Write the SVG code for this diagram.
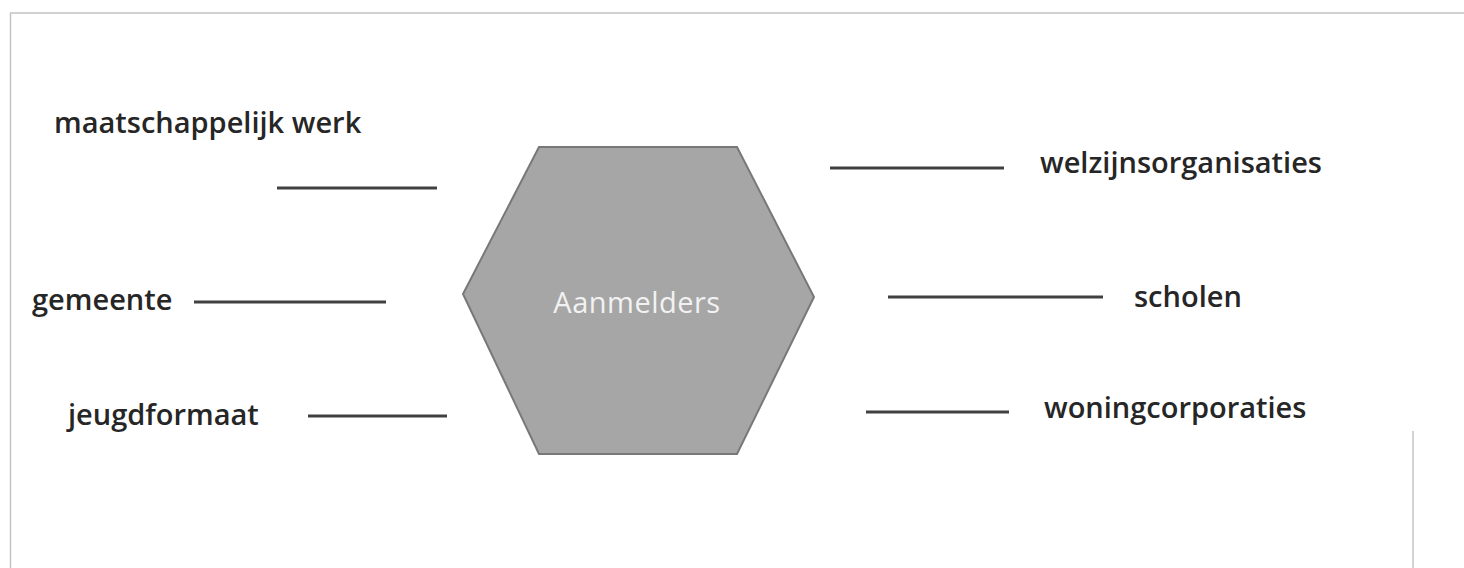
<svg xmlns="http://www.w3.org/2000/svg" width="1464" height="568" viewBox="0 0 1464 568">
<style>
.lbl{font-family:"Open Sans","Noto Sans",sans-serif;font-size:29px;font-weight:600;fill:#262626;}
.conn line{stroke:#404040;stroke-width:3;}
.frame{stroke:#c4c4c4;stroke-width:1.5;fill:none;}
</style>
<rect width="1464" height="568" fill="#ffffff"/>
<g id="frame">
<path class="frame" d="M10.5,568 V13 H1464"/>
<line class="frame" x1="1413" y1="431" x2="1413" y2="568"/>
</g>
<g id="aanmelders">
<polygon points="539,147 737,147 814,297 737,454 539,454 463,294" fill="#a6a6a6" stroke="#787878" stroke-width="2"/>
<text x="637" y="313" text-anchor="middle" font-family="Open Sans,Noto Sans,sans-serif" font-size="29" fill="#f2f2f2" letter-spacing="0.5">Aanmelders</text>
</g>
<g id="maatschappelijk-werk"><text class="lbl" x="54" y="133">maatschappelijk werk</text></g>
<g id="gemeente"><text class="lbl" x="32" y="310">gemeente</text></g>
<g id="jeugdformaat"><text class="lbl" x="68" y="425">jeugdformaat</text></g>
<g id="welzijnsorganisaties"><text class="lbl" x="1040" y="173">welzijnsorganisaties</text></g>
<g id="scholen"><text class="lbl" x="1134" y="307">scholen</text></g>
<g id="woningcorporaties"><text class="lbl" x="1044" y="418">woningcorporaties</text></g>
<g id="connectors" class="conn">
<line x1="277" y1="188" x2="437" y2="188"/>
<line x1="194" y1="302" x2="386" y2="302"/>
<line x1="308" y1="416" x2="447" y2="416"/>
<line x1="830" y1="168" x2="1004" y2="168"/>
<line x1="888" y1="297" x2="1103" y2="297"/>
<line x1="866" y1="412" x2="1009" y2="412"/>
</g>
</svg>
